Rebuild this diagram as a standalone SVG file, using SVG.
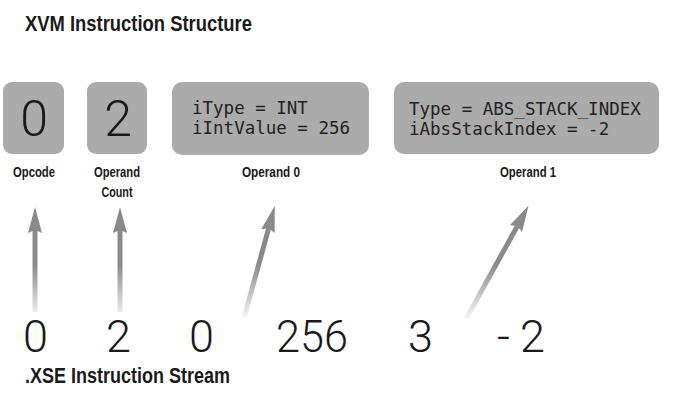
<svg xmlns="http://www.w3.org/2000/svg" width="675" height="412" viewBox="0 0 675 412">
<style>
.box{fill:#ababab;}
.big{font-family:Roboto,"Liberation Sans",Arial,sans-serif;font-weight:300;font-size:50px;fill:#1a1a1a;text-anchor:middle;}
.mono{font-family:"DejaVu Sans Mono","Liberation Mono",monospace;font-size:17.5px;fill:#222;}
.lbl{font-family:"Liberation Sans",Arial,sans-serif;font-weight:bold;font-size:14.5px;fill:#1a1a1a;text-anchor:middle;}
.head{font-family:"Liberation Sans",Arial,sans-serif;font-weight:bold;font-size:22px;fill:#1a1a1a;}
.stream{font-family:Roboto,"Liberation Sans",Arial,sans-serif;font-weight:300;font-size:45px;fill:#1a1a1a;}
.arrow{stroke:url(#fade);stroke-width:5;fill:none;marker-end:url(#ah);}
</style>
<defs>
<linearGradient id="fade" gradientUnits="userSpaceOnUse" x1="0" y1="322" x2="0" y2="265">
<stop offset="0" stop-color="#8a8a8a" stop-opacity="0"/>
<stop offset="1" stop-color="#8a8a8a" stop-opacity="1"/>
</linearGradient>
<marker id="ah" markerUnits="userSpaceOnUse" viewBox="0 0 26 14" markerWidth="26" markerHeight="14" refX="3" refY="7" orient="auto">
<path d="M0,0 L26,7 L0,14 L3,7 z" fill="#8a8a8a"/>
</marker>
</defs>
<text class="head" x="25" y="31" textLength="227" lengthAdjust="spacingAndGlyphs">XVM Instruction Structure</text>
<g id="opcode">
<rect class="box" x="3" y="82" width="61" height="72" rx="9"/>
<text class="big" x="34" y="136">0</text>
<text class="lbl" x="34" y="177" textLength="42" lengthAdjust="spacingAndGlyphs">Opcode</text>
</g>
<g id="operand-count">
<rect class="box" x="87" y="82" width="60" height="72" rx="9"/>
<text class="big" x="118" y="136">2</text>
<text class="lbl" x="117" y="177" textLength="46" lengthAdjust="spacingAndGlyphs">Operand</text>
<text class="lbl" x="117" y="197" textLength="31" lengthAdjust="spacingAndGlyphs">Count</text>
</g>
<g id="operand0">
<rect class="box" x="172" y="82" width="197" height="73" rx="10"/>
<text class="mono" x="192" y="114">iType = INT</text>
<text class="mono" x="192" y="134">iIntValue = 256</text>
<text class="lbl" x="271" y="177" textLength="58" lengthAdjust="spacingAndGlyphs">Operand 0</text>
</g>
<g id="operand1">
<rect class="box" x="394" y="82" width="265" height="72" rx="10"/>
<text class="mono" x="409" y="115">Type = ABS_STACK_INDEX</text>
<text class="mono" x="409" y="135">iAbsStackIndex = -2</text>
<text class="lbl" x="528" y="177" textLength="56" lengthAdjust="spacingAndGlyphs">Operand 1</text>
</g>
<g id="connectors">
<line class="arrow" x1="35" y1="312" x2="35" y2="230"/>
<line class="arrow" x1="120" y1="312" x2="120" y2="230"/>
<line class="arrow" x1="244" y1="318" x2="268.7" y2="228.2"/>
<line class="arrow" x1="466" y1="319" x2="517.4" y2="226"/>
</g>
<g id="stream">
<text class="stream" x="23" y="352">0</text>
<text class="stream" x="106" y="352">2</text>
<text class="stream" x="189" y="352">0</text>
<text class="stream" x="276" y="352" textLength="72" lengthAdjust="spacingAndGlyphs">256</text>
<text class="stream" x="408" y="352">3</text>
<text class="stream" x="497" y="352">-</text>
<text class="stream" x="520" y="352">2</text>
<text class="head" x="25" y="383" font-size="21" textLength="205" lengthAdjust="spacingAndGlyphs">.XSE Instruction Stream</text>
</g>
</svg>
